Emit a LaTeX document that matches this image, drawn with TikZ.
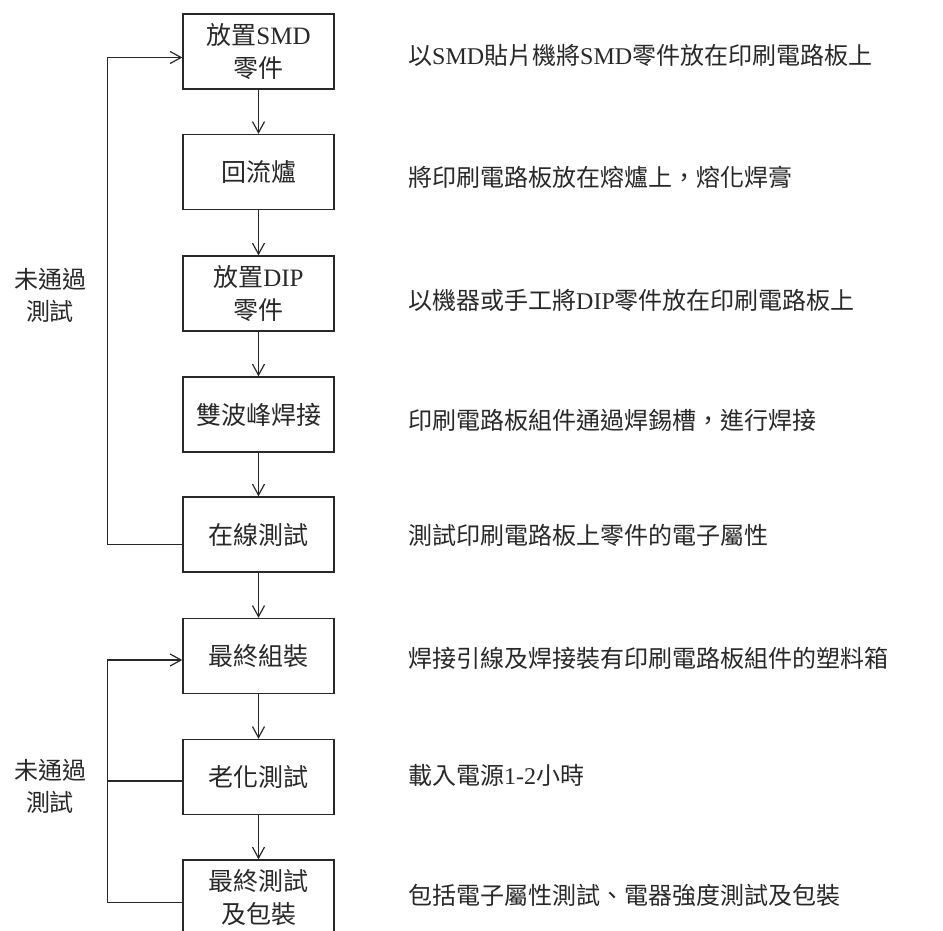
\documentclass[tikz,border=0pt]{standalone}
\usepackage{fontspec}
\setmainfont{Liberation Serif}
\newfontfamily\cjk{Noto Sans CJK TC}
\usetikzlibrary{arrows.meta}
\newcommand\zh[1]{{\cjk #1}}
\definecolor{ink}{RGB}{40,40,40}
\begin{document}
\begin{tikzpicture}[x=1pt,y=-1pt,
  stepbox/.style={draw=ink,line width=1.3pt,minimum width=151pt,minimum height=75pt,
    inner sep=0pt,align=center,font=\fontsize{25}{33}\selectfont,text=ink},
  note/.style={anchor=west,font=\fontsize{24}{30}\selectfont,text=ink,inner sep=0pt},
  lbl/.style={align=center,font=\fontsize{24}{32}\selectfont,text=ink,inner sep=0pt},
  flow/.style={draw=ink,line width=1.2pt,-{Straight Barb[length=11pt,width=12pt,line width=1.2pt]}},
  loopline/.style={draw=ink,line width=1.2pt}]
\useasboundingbox (0,0) rectangle (943,930);
\fill[white] (0,0) rectangle (943,930);

\node[stepbox] (b1) at (258.5,51.5) {\zh{放置}SMD\\\zh{零件}};
\node[stepbox] (b2) at (258.5,172) {\zh{回流爐}};
\node[stepbox] (b3) at (258.5,293.5) {\zh{放置}DIP\\\zh{零件}};
\node[stepbox] (b4) at (258.5,414.5) {\zh{雙波峰焊接}};
\node[stepbox] (b5) at (258.5,534.5) {\zh{在線測試}};
\node[stepbox] (b6) at (258.5,656) {\zh{最終組裝}};
\node[stepbox] (b7) at (258.5,777) {\zh{老化測試}};
\node[stepbox] (b8) at (258.5,897.5) {\zh{最終測試}\\\zh{及包裝}};

\draw[flow] (b1) -- (b2);
\draw[flow] (b2) -- (b3);
\draw[flow] (b3) -- (b4);
\draw[flow] (b4) -- (b5);
\draw[flow] (b5) -- (b6);
\draw[flow] (b6) -- (b7);
\draw[flow] (b7) -- (b8);

\draw[flow] ([yshift=-10pt]b5.west) -- ++(-75,0) |- ([yshift=-6pt]b1.west);
\draw[flow] ([yshift=-5pt]b8.west) -- ++(-75,0) |- ([yshift=-4pt]b6.west);
\draw[loopline] ([yshift=-4pt]b7.west) -- ++(-75,0);

\node[lbl] (f1) at (50,295) {\zh{未通過}\\\zh{測試}};
\node[lbl] (f2) at (50,786.5) {\zh{未通過}\\\zh{測試}};

\node[note] (n1) at (408,55) {\zh{以}SMD\zh{貼片機將}SMD\zh{零件放在印刷電路板上}};
\node[note] (n2) at (408,177) {\zh{將印刷電路板放在熔爐上，熔化焊膏}};
\node[note] (n3) at (408,300) {\zh{以機器或手工將}DIP\zh{零件放在印刷電路板上}};
\node[note] (n4) at (408,420) {\zh{印刷電路板組件通過焊錫槽，進行焊接}};
\node[note] (n5) at (408,535) {\zh{測試印刷電路板上零件的電子屬性}};
\node[note] (n6) at (408,658) {\zh{焊接引線及焊接裝有印刷電路板組件的塑料箱}};
\node[note] (n7) at (408,775) {\zh{載入電源}1-2\zh{小時}};
\node[note] (n8) at (408,895) {\zh{包括電子屬性測試、電器強度測試及包裝}};
\end{tikzpicture}
\end{document}
